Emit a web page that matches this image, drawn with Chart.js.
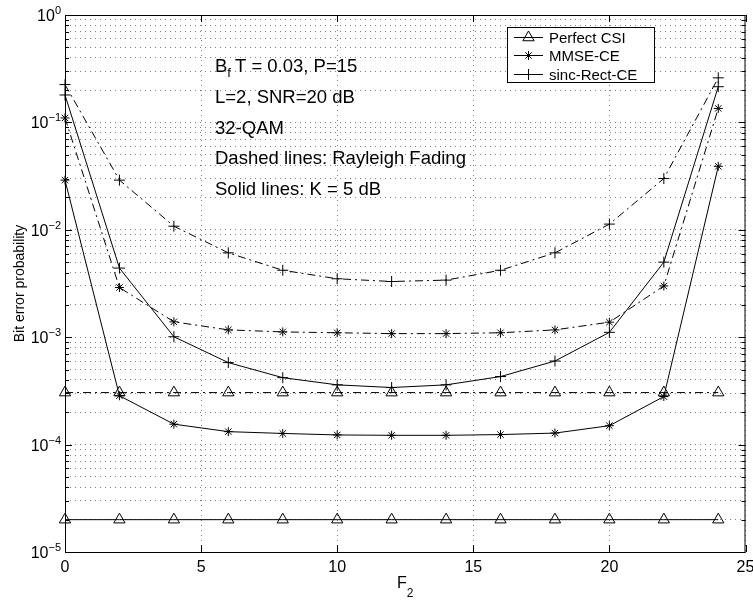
<!DOCTYPE html>
<html>
<head>
<meta charset="utf-8">
<script src="https://cdn.jsdelivr.net/npm/chart.js@4.4.1/dist/chart.umd.min.js"></script>
<style>
  html, body { margin: 0; padding: 0; background: #fff; }
  #ber-chart { display: block; }
</style>
</head>
<body>
<canvas id="ber-chart" width="753" height="600"></canvas>
<script>
// F2 values (x axis) and bit error probabilities
const F2 = [0, 2, 4, 6, 8, 10, 12, 14, 16, 18, 20, 22, 24];

// dashed lines: Rayleigh fading
const perfectCsiRayleigh = [3.05e-4, 3.05e-4, 3.05e-4, 3.05e-4, 3.05e-4, 3.05e-4, 3.05e-4, 3.05e-4, 3.05e-4, 3.05e-4, 3.05e-4, 3.05e-4, 3.05e-4];
const mmseRayleigh       = [0.11, 2.9e-3, 1.39e-3, 1.17e-3, 1.12e-3, 1.1e-3, 1.08e-3, 1.08e-3, 1.1e-3, 1.17e-3, 1.38e-3, 3.0e-3, 0.135];
const sincRayleigh       = [0.225, 0.029, 0.0108, 6.1e-3, 4.2e-3, 3.5e-3, 3.3e-3, 3.4e-3, 4.2e-3, 6.1e-3, 0.0113, 0.030, 0.26];

// solid lines: K = 5 dB
const perfectCsiRice = [2e-5, 2e-5, 2e-5, 2e-5, 2e-5, 2e-5, 2e-5, 2e-5, 2e-5, 2e-5, 2e-5, 2e-5, 2e-5];
const mmseRice       = [0.029, 2.85e-4, 1.55e-4, 1.32e-4, 1.27e-4, 1.23e-4, 1.22e-4, 1.22e-4, 1.24e-4, 1.28e-4, 1.5e-4, 2.8e-4, 0.039];
const sincRice       = [0.18, 4.4e-3, 1.01e-3, 5.8e-4, 4.2e-4, 3.6e-4, 3.4e-4, 3.6e-4, 4.3e-4, 6.0e-4, 1.11e-3, 5.0e-3, 0.215];

const legendLabels = ['Perfect CSI', 'MMSE-CE', 'sinc-Rect-CE'];
const legendMarkers = ['triangle', 'star', 'cross'];
const xTickValues = [0, 5, 10, 15, 20, 25];
const yDecades = [0, -1, -2, -3, -4, -5];
const notes = ['L=2, SNR=20 dB', '32-QAM', 'Dashed lines: Rayleigh Fading', 'Solid lines: K = 5 dB'];

const FAM = '"Liberation Sans", Arial, Helvetica, sans-serif';
const f = px => px + 'px ' + FAM;
const DASHDOT = [8, 4, 2, 4];

function series(values, marker, dashed) {
    return {
        data: F2.map((x, i) => ({ x: x, y: values[i] })),
        borderColor: '#000',
        borderWidth: 1,
        borderDash: dashed ? DASHDOT : [],
        pointStyle: marker,
        pointRadius: marker === 'triangle' ? 6.5 : (marker === 'star' ? 4.5 : 5.5),
        pointBorderWidth: 1,
        pointBorderColor: '#000',
        pointBackgroundColor: 'rgba(0,0,0,0)',
        tension: 0,
        fill: false,
        clip: false,
    };
}

const isDecade = v => Math.abs(Math.log10(v) - Math.round(Math.log10(v))) < 1e-9;

const decorations = {
    id: 'decorations',
    afterDraw(chart) {
        const { ctx, chartArea: a, scales: { x, y } } = chart;
        ctx.save();
        ctx.strokeStyle = '#000';
        ctx.fillStyle = '#000';
        ctx.lineWidth = 1;
        ctx.setLineDash([]);

        // axes box
        ctx.strokeRect(a.left + 0.5, a.top + 0.5, a.right - a.left - 1, a.bottom - a.top);

        // inward tick marks
        ctx.beginPath();
        xTickValues.forEach(v => {
            const px = Math.round(x.getPixelForValue(v)) + 0.5;
            ctx.moveTo(px, a.bottom); ctx.lineTo(px, a.bottom - 7);
            ctx.moveTo(px, a.top); ctx.lineTo(px, a.top + 7);
        });
        y.ticks.forEach(t => {
            const py = Math.round(y.getPixelForValue(t.value)) + 0.5;
            const len = isDecade(t.value) ? 7 : 4;
            ctx.moveTo(a.left, py); ctx.lineTo(a.left + len, py);
            ctx.moveTo(a.right, py); ctx.lineTo(a.right - len, py);
        });
        ctx.stroke();

        // x tick labels
        ctx.font = f(16);
        ctx.textAlign = 'center';
        ctx.textBaseline = 'alphabetic';
        xTickValues.forEach(v => ctx.fillText(String(v), x.getPixelForValue(v), a.bottom + 20));

        // y tick labels 10^e
        ctx.textAlign = 'left';
        yDecades.forEach(e => {
            const py = y.getPixelForValue(Math.pow(10, e));
            const ex = e === 0 ? '0' : '\u2212' + (-e);
            ctx.font = f(11);
            const w2 = ctx.measureText(ex).width;
            ctx.font = f(16);
            const w1 = ctx.measureText('10').width;
            const x0 = a.left - 4 - w2 - w1;
            ctx.fillText('10', x0, py + 6);
            ctx.font = f(11);
            ctx.fillText(ex, x0 + w1, py - 1);
        });

        // x title F_2
        ctx.font = f(16);
        const wF = ctx.measureText('F').width;
        ctx.font = f(12);
        const wSub = ctx.measureText('2').width;
        const cx = (a.left + a.right) / 2;
        const fx = cx - (wF + wSub) / 2;
        ctx.font = f(16);
        ctx.fillText('F', fx, 588);
        ctx.font = f(12);
        ctx.fillText('2', fx + wF, 597);

        // y title
        ctx.save();
        ctx.translate(24, (a.top + a.bottom) / 2);
        ctx.rotate(-Math.PI / 2);
        ctx.textAlign = 'center';
        ctx.font = f(14);
        ctx.fillText('Bit error probability', 0, 0);
        ctx.restore();

        // parameter notes
        ctx.textAlign = 'left';
        ctx.font = f(18.5);
        const wB = ctx.measureText('B').width;
        ctx.fillText('B', 215, 72);
        ctx.font = f(13);
        const wf = ctx.measureText('f').width;
        ctx.fillText('f', 215 + wB, 77);
        ctx.font = f(18.5);
        ctx.fillText('T = 0.03, P=15', 215 + wB + wf + 4, 72);
        notes.forEach((s, i) => ctx.fillText(s, 215, 103 + i * 30.5));

        // legend
        const lx = 507, ly = 27, lw = 147, lh = 55;
        ctx.fillStyle = '#fff';
        ctx.fillRect(lx, ly, lw, lh);
        ctx.strokeStyle = '#000';
        ctx.strokeRect(lx + 0.5, ly + 0.5, lw, lh);
        legendLabels.forEach((label, i) => {
            const ry = Math.round(ly + 10 + i * 18.3) + 0.5;
            ctx.beginPath();
            ctx.moveTo(514, ry); ctx.lineTo(543, ry);
            ctx.stroke();
            ctx.fillStyle = 'rgba(0,0,0,0)';
            const st = legendMarkers[i];
            Chart.helpers.drawPoint(ctx, {
                pointStyle: st,
                rotation: 0,
                radius: st === 'triangle' ? 6.5 : (st === 'star' ? 4.5 : 5.5),
                borderWidth: 1,
            }, 528.5, ry);
            ctx.fillStyle = '#000';
            ctx.font = f(15);
            ctx.fillText(label, 549, ry + 5.5);
        });
        ctx.restore();
    }
};

const ctx = document.getElementById('ber-chart').getContext('2d');
const berChart = new Chart(ctx, {
    type: 'line',
    data: {
        datasets: [
            series(perfectCsiRayleigh, 'triangle', true),
            series(mmseRayleigh, 'star', true),
            series(sincRayleigh, 'cross', true),
            series(perfectCsiRice, 'triangle', false),
            series(mmseRice, 'star', false),
            series(sincRice, 'cross', false),
        ]
    },
    options: {
        responsive: false,
        animation: false,
        layout: { padding: { top: 15, right: 7, left: 0, bottom: 0 } },
        plugins: {
            legend: { display: false },
            tooltip: { enabled: false },
        },
        scales: {
            x: {
                type: 'linear',
                min: 0,
                max: 25,
                afterBuildTicks: s => { s.ticks = xTickValues.map(v => ({ value: v })); },
                afterFit: s => { s.height = 48; },
                ticks: { display: false },
                grid: { color: 'rgba(0,0,0,0.5)', lineWidth: 1, drawTicks: false },
                border: { display: false, dash: [1, 4] },
            },
            y: {
                type: 'logarithmic',
                min: 1e-5,
                max: 1,
                afterBuildTicks: s => {
                    const t = [];
                    for (let e = -5; e < 0; e++) {
                        for (let m = 1; m <= 9; m++) t.push({ value: m * Math.pow(10, e) });
                    }
                    t.push({ value: 1 });
                    s.ticks = t;
                },
                afterFit: s => { s.width = 65; },
                ticks: { display: false },
                grid: { color: 'rgba(0,0,0,0.5)', lineWidth: 1, drawTicks: false },
                border: { display: false, dash: [1, 4] },
            }
        }
    },
    plugins: [decorations]
});
</script>
</body>
</html>
